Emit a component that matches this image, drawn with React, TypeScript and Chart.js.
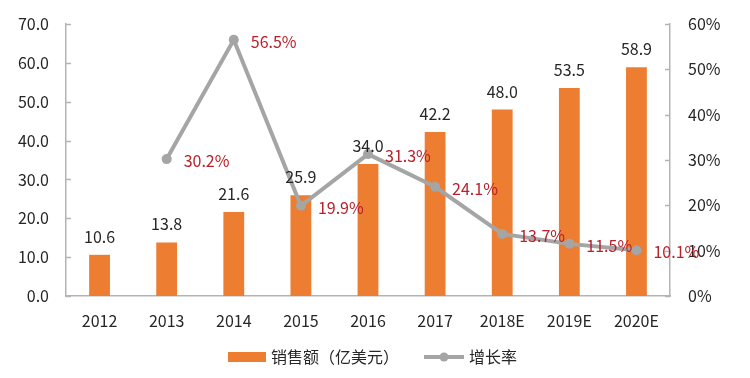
import React, { useEffect, useRef } from "react";
import { Chart, registerables } from "chart.js";

Chart.register(...registerables);

const categories = ["2012", "2013", "2014", "2015", "2016", "2017", "2018E", "2019E", "2020E"];
const salesValues = [10.6, 13.8, 21.6, 25.9, 34.0, 42.2, 48.0, 53.5, 58.9];
const growthValues = [null, 30.2, 56.5, 19.9, 31.3, 24.1, 13.7, 11.5, 10.1];
const salesLabel = "销售额（亿美元）";
const growthLabel = "增长率";

const FONT = "'Noto Sans CJK SC', 'Open Sans', sans-serif";
const ORANGE = "#ED7D31";
const GRAY = "#A5A5A5";
const AXIS = "#B4B4B4";
const TEXT = "#262626";
const RED = "#B8202A";

const overlayPlugin = {
  id: "overlay",
  afterDatasetsDraw(chart: any) {
    const ctx = chart.ctx;
    const yL = chart.scales.y;
    const yR = chart.scales.y1;
    const area = chart.chartArea;
    ctx.save();
    ctx.strokeStyle = AXIS;
    ctx.lineWidth = 1.5;
    yL.ticks.forEach((t: any) => {
      const y = Math.round(yL.getPixelForValue(t.value)) + 0.5;
      ctx.beginPath();
      ctx.moveTo(area.left, y);
      ctx.lineTo(area.left + 5, y);
      ctx.stroke();
    });
    yR.ticks.forEach((t: any) => {
      const y = Math.round(yR.getPixelForValue(t.value)) + 0.5;
      ctx.beginPath();
      ctx.moveTo(area.right - 5, y);
      ctx.lineTo(area.right, y);
      ctx.stroke();
    });
    ctx.font = `16px ${FONT}`;
    ctx.fillStyle = TEXT;
    ctx.textAlign = "center";
    ctx.textBaseline = "bottom";
    const barMeta = chart.getDatasetMeta(0);
    barMeta.data.forEach((el: any, i: number) => {
      ctx.fillText(salesValues[i].toFixed(1), el.x, el.y - 10);
    });
    ctx.fillStyle = RED;
    ctx.textAlign = "left";
    ctx.textBaseline = "middle";
    const lineMeta = chart.getDatasetMeta(1);
    lineMeta.data.forEach((el: any, i: number) => {
      const v = growthValues[i];
      if (v == null) return;
      ctx.fillText(v.toFixed(1) + "%", el.x + 17, el.y + 2);
    });
    const ly = 357;
    ctx.fillStyle = ORANGE;
    ctx.fillRect(228, ly - 5, 38, 10);
    ctx.fillStyle = TEXT;
    ctx.font = `16px ${FONT}`;
    ctx.textBaseline = "middle";
    ctx.fillText(salesLabel, 271, ly);
    ctx.strokeStyle = GRAY;
    ctx.lineWidth = 4;
    ctx.beginPath();
    ctx.moveTo(424, ly);
    ctx.lineTo(464, ly);
    ctx.stroke();
    ctx.fillStyle = GRAY;
    ctx.beginPath();
    ctx.arc(444, ly, 4.5, 0, Math.PI * 2);
    ctx.fill();
    ctx.fillStyle = TEXT;
    ctx.fillText(growthLabel, 469, ly);
    ctx.restore();
  },
};

export default function App() {
  const ref = useRef<HTMLCanvasElement>(null);
  useEffect(() => {
    if (!ref.current) return;
    const chart = new Chart(ref.current, {
      type: "bar",
      data: {
        labels: categories,
        datasets: [
          {
            type: "bar",
            label: salesLabel,
            data: salesValues,
            backgroundColor: ORANGE,
            barPercentage: 0.62,
            categoryPercentage: 0.5,
            yAxisID: "y",
            order: 2,
          },
          {
            type: "line",
            label: growthLabel,
            data: growthValues as any,
            borderColor: GRAY,
            backgroundColor: GRAY,
            borderWidth: 4,
            pointRadius: 5,
            pointHoverRadius: 5,
            pointBackgroundColor: GRAY,
            pointBorderWidth: 0,
            tension: 0,
            spanGaps: false,
            yAxisID: "y1",
            order: 1,
          },
        ],
      },
      options: {
        responsive: false,
        animation: false,
        layout: { padding: { top: 24, left: 0, right: 0, bottom: 0 } },
        plugins: { legend: { display: false }, tooltip: { enabled: false } },
        scales: {
          x: {
            offset: true,
            grid: { display: false, drawTicks: false },
            border: { color: AXIS, width: 1.5 },
            ticks: { color: TEXT, font: { family: FONT, size: 16 }, padding: 15, maxRotation: 0 },
            afterFit: (s: any) => { s.height = 82; s.paddingLeft = 0; s.paddingRight = 0; },
          },
          y: {
            position: "left",
            min: 0,
            max: 70,
            grid: { display: false, drawTicks: false },
            border: { color: AXIS, width: 1.5 },
            ticks: {
              stepSize: 10,
              color: TEXT,
              font: { family: FONT, size: 16 },
              padding: 17,
              callback: (v: any) => Number(v).toFixed(1),
            },
            afterFit: (s: any) => { s.width = 66; s.paddingTop = 0; s.paddingBottom = 0; },
          },
          y1: {
            position: "right",
            min: 0,
            max: 60,
            grid: { display: false, drawTicks: false },
            border: { color: AXIS, width: 1.5 },
            ticks: {
              stepSize: 10,
              color: TEXT,
              font: { family: FONT, size: 16 },
              padding: 18,
              callback: (v: any) => v + "%",
            },
            afterFit: (s: any) => { s.width = 80; s.paddingTop = 0; s.paddingBottom = 0; },
          },
        },
      },
      plugins: [overlayPlugin],
    });
    return () => chart.destroy();
  }, []);
  return (
    <div style={{ position: "absolute", left: 0, top: 0, width: 750, height: 378, background: "#fff" }}>
      <canvas ref={ref} width={750} height={378} />
    </div>
  );
}
